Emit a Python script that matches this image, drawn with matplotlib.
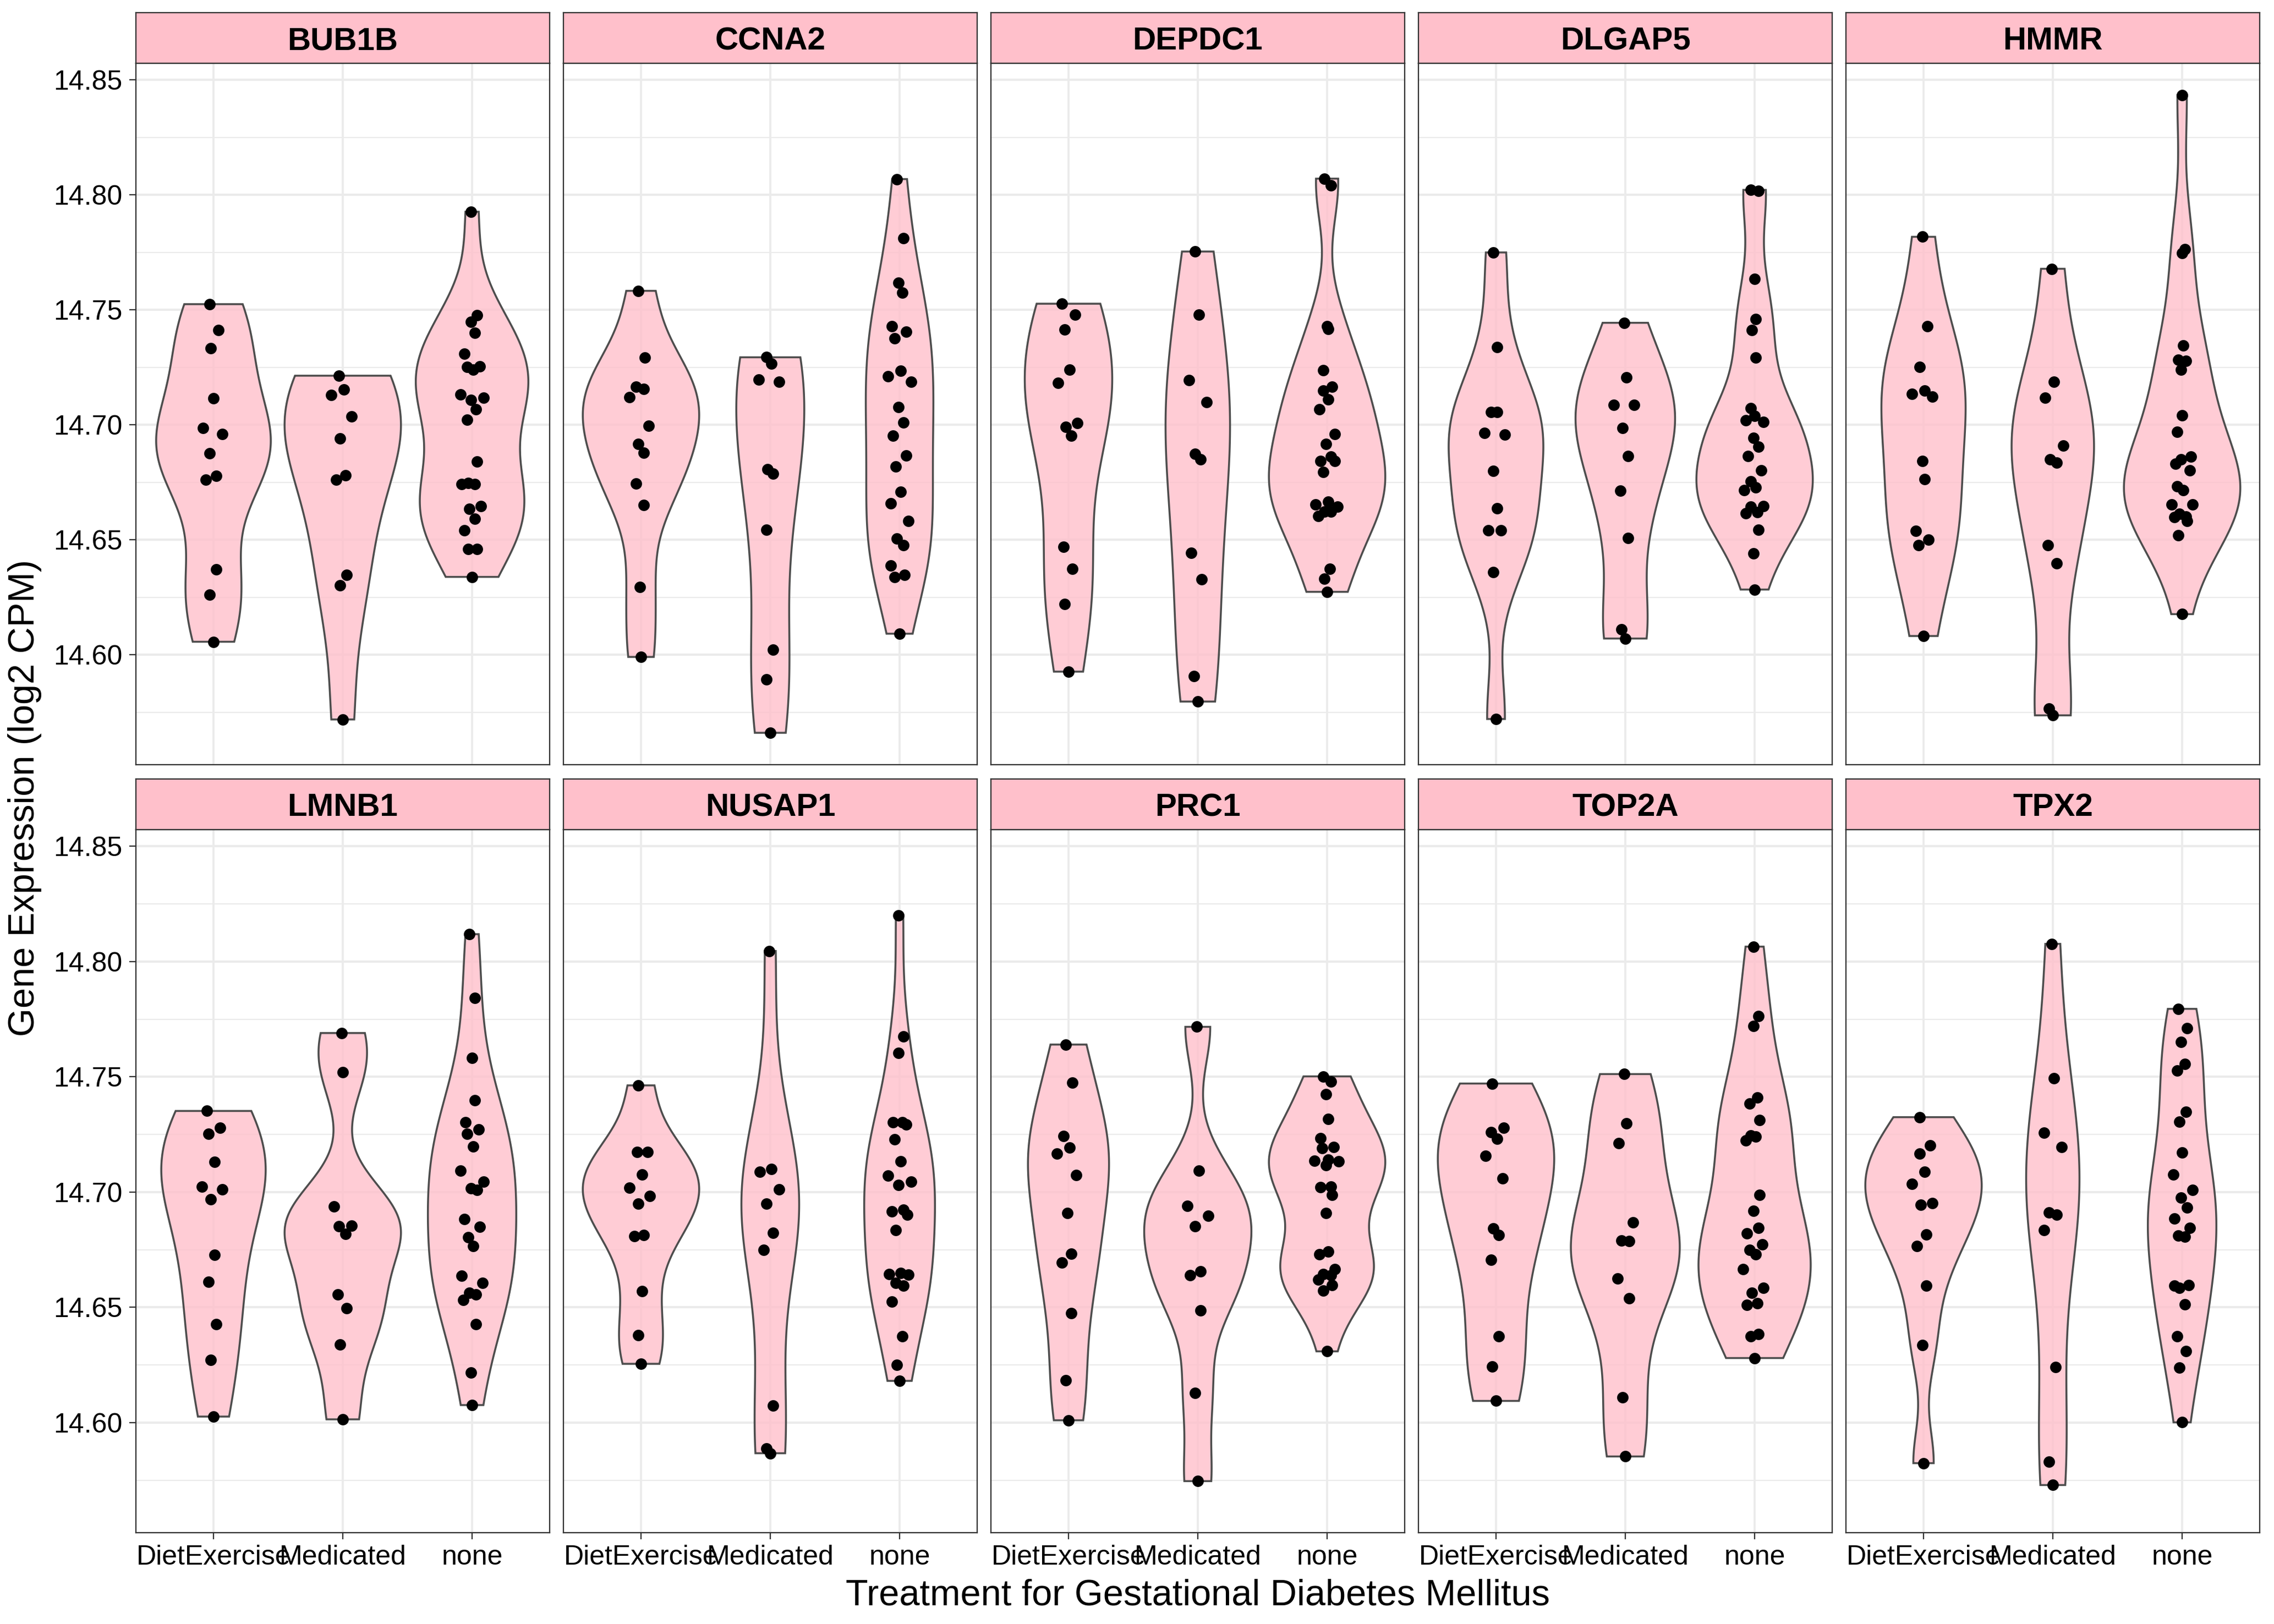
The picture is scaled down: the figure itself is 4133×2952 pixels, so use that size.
import numpy as np
import matplotlib
matplotlib.use("Agg")
import matplotlib.pyplot as plt

plt.rcParams['font.family'] = ['Liberation Sans', 'DejaVu Sans']

# ---------------- data ----------------
GENES = ["BUB1B", "CCNA2", "DEPDC1", "DLGAP5", "HMMR",
         "LMNB1", "NUSAP1", "PRC1", "TOP2A", "TPX2"]
GROUPS = ["DietExercise", "Medicated", "none"]

BUB1B = {
    "DietExercise": [14.7525, 14.7413, 14.7333, 14.7115, 14.6987, 14.6960, 14.6877, 14.6779, 14.6762, 14.6372, 14.6261, 14.6057],
    "Medicated": [14.7214, 14.7154, 14.7129, 14.7036, 14.6941, 14.6781, 14.6762, 14.6348, 14.6302, 14.5719],
    "none": [14.7927, 14.7477, 14.7449, 14.7401, 14.7310, 14.7255, 14.7251, 14.7240, 14.7133, 14.7119, 14.7108, 14.7067,
             14.7022, 14.6840, 14.6748, 14.6743, 14.6743, 14.6647, 14.6636, 14.6591, 14.6541, 14.6461, 14.6459, 14.6339],
}
CCNA2 = {
    "DietExercise": [14.7583, 14.7292, 14.7166, 14.7156, 14.7121, 14.6995, 14.6917, 14.6880, 14.6744, 14.6651, 14.6294, 14.5991],
    "Medicated": [14.7294, 14.7267, 14.7197, 14.7187, 14.6807, 14.6789, 14.6544, 14.6022, 14.5892, 14.5661],
    "none": [14.8069, 14.7813, 14.7618, 14.7576, 14.7430, 14.7405, 14.7376, 14.7236, 14.7212, 14.7187, 14.7077, 14.7011,
             14.6952, 14.6867, 14.6820, 14.6710, 14.6659, 14.6581, 14.6506, 14.6476, 14.6389, 14.6348, 14.6337, 14.6092],
}
DEPDC1 = {
    "DietExercise": [14.7527, 14.7479, 14.7414, 14.7240, 14.7183, 14.7007, 14.6991, 14.6952, 14.6469, 14.6374, 14.6220, 14.5927],
    "Medicated": [14.7754, 14.7480, 14.7195, 14.7098, 14.6873, 14.6849, 14.6443, 14.6329, 14.5907, 14.5797],
    "none": [14.8071, 14.8042, 14.7428, 14.7418, 14.7238, 14.7166, 14.7150, 14.7110, 14.7067, 14.6960, 14.6917, 14.6861,
             14.6843, 14.6843, 14.6795, 14.6665, 14.6653, 14.6645, 14.6624, 14.6624, 14.6603, 14.6374, 14.6331, 14.6274],
}
DLGAP5 = {
    "DietExercise": [14.7750, 14.7339, 14.7057, 14.7057, 14.6966, 14.6958, 14.6799, 14.6638, 14.6541, 14.6541, 14.6360, 14.5721],
    "Medicated": [14.7444, 14.7207, 14.7088, 14.7086, 14.6987, 14.6865, 14.6713, 14.6509, 14.6111, 14.6071],
    "none": [14.8022, 14.8018, 14.7634, 14.7461, 14.7413, 14.7292, 14.7073, 14.7038, 14.7020, 14.7014, 14.6944, 14.6904,
             14.6865, 14.6803, 14.6754, 14.6727, 14.6717, 14.6647, 14.6645, 14.6620, 14.6616, 14.6544, 14.6442, 14.6284],
}
HMMR = {
    "DietExercise": [14.7818, 14.7428, 14.7253, 14.7150, 14.7135, 14.7123, 14.6842, 14.6764, 14.6539, 14.6500, 14.6476, 14.6082],
    "Medicated": [14.7679, 14.7187, 14.7119, 14.6910, 14.6849, 14.6836, 14.6476, 14.6397, 14.5766, 14.5737],
    "none": [14.8434, 14.7764, 14.7747, 14.7345, 14.7284, 14.7279, 14.7240, 14.7042, 14.6970, 14.6863, 14.6849, 14.6830,
             14.6803, 14.6733, 14.6717, 14.6653, 14.6653, 14.6614, 14.6601, 14.6599, 14.6581, 14.6521, 14.6177],
}
LMNB1 = {
    "DietExercise": [14.7352, 14.7280, 14.7253, 14.7131, 14.7024, 14.7012, 14.6968, 14.6727, 14.6610, 14.6426, 14.6271, 14.6026],
    "Medicated": [14.7690, 14.7521, 14.6937, 14.6853, 14.6851, 14.6818, 14.6556, 14.6496, 14.6339, 14.6014],
    "none": [14.8119, 14.7842, 14.7583, 14.7399, 14.7304, 14.7271, 14.7253, 14.7197, 14.7092, 14.7044, 14.7016, 14.7009,
             14.6882, 14.6849, 14.6805, 14.6766, 14.6636, 14.6605, 14.6562, 14.6556, 14.6531, 14.6426, 14.6216, 14.6076],
}
NUSAP1 = {
    "DietExercise": [14.7463, 14.7174, 14.7174, 14.7077, 14.7020, 14.6983, 14.6950, 14.6814, 14.6810, 14.6570, 14.6379, 14.6255],
    "Medicated": [14.8046, 14.7100, 14.7088, 14.7012, 14.6950, 14.6822, 14.6750, 14.6073, 14.5888, 14.5867],
    "none": [14.8201, 14.7675, 14.7603, 14.7304, 14.7302, 14.7294, 14.7228, 14.7133, 14.7071, 14.7045, 14.7030, 14.6923,
             14.6917, 14.6902, 14.6834, 14.6649, 14.6643, 14.6641, 14.6607, 14.6595, 14.6525, 14.6374, 14.6251, 14.6181],
}
PRC1 = {
    "DietExercise": [14.7640, 14.7475, 14.7244, 14.7193, 14.7168, 14.7073, 14.6908, 14.6733, 14.6694, 14.6475, 14.6183, 14.6010],
    "Medicated": [14.7717, 14.7094, 14.6941, 14.6896, 14.6851, 14.6655, 14.6640, 14.6486, 14.6129, 14.5746],
    "none": [14.7502, 14.7480, 14.7424, 14.7317, 14.7234, 14.7195, 14.7191, 14.7141, 14.7135, 14.7133, 14.7117, 14.7024,
             14.7022, 14.6989, 14.6910, 14.6743, 14.6731, 14.6665, 14.6645, 14.6640, 14.6620, 14.6597, 14.6572, 14.6309],
}
TOP2A = {
    "DietExercise": [14.7471, 14.7280, 14.7259, 14.7232, 14.7158, 14.7059, 14.6843, 14.6814, 14.6707, 14.6375, 14.6243, 14.6094],
    "Medicated": [14.7512, 14.7298, 14.7212, 14.6869, 14.6789, 14.6787, 14.6624, 14.6539, 14.6109, 14.5853],
    "none": [14.8065, 14.7764, 14.7721, 14.7411, 14.7383, 14.7313, 14.7245, 14.7240, 14.7224, 14.6989, 14.6919, 14.6845,
             14.6820, 14.6772, 14.6748, 14.6731, 14.6665, 14.6585, 14.6564, 14.6517, 14.6511, 14.6385, 14.6374, 14.6280],
}
TPX2 = {
    "DietExercise": [14.7325, 14.7203, 14.7168, 14.7088, 14.7036, 14.6952, 14.6944, 14.6816, 14.6766, 14.6593, 14.6337, 14.5824],
    "Medicated": [14.8077, 14.7494, 14.7257, 14.7195, 14.6911, 14.6902, 14.6836, 14.6240, 14.5830, 14.5729],
    "none": [14.7795, 14.7710, 14.7651, 14.7556, 14.7527, 14.7348, 14.7306, 14.7172, 14.7077, 14.7009, 14.6976, 14.6933,
             14.6886, 14.6845, 14.6811, 14.6807, 14.6597, 14.6595, 14.6585, 14.6513, 14.6374, 14.6311, 14.6238, 14.6001],
}

# horizontal jitter of each point (category units)
BUB1B_JITTER = {
    "DietExercise": [-0.03, 0.04, -0.02, 0.0, -0.08, 0.07, -0.03, 0.02, -0.06, 0.02, -0.03, 0.0],
    "Medicated": [-0.03, 0.01, -0.09, 0.07, -0.02, 0.02, -0.05, 0.03, -0.02, 0.0],
    "none": [-0.01, 0.04, -0.01, 0.02, -0.06, 0.06, -0.04, 0.01, -0.09, 0.09, -0.01, 0.03,
             -0.04, 0.04, -0.03, -0.08, 0.02, 0.07, -0.02, 0.02, -0.06, 0.04, -0.03, 0.0],
}
CCNA2_JITTER = {
    "DietExercise": [-0.02, 0.03, -0.04, 0.02, -0.09, 0.06, -0.02, 0.02, -0.04, 0.02, -0.01, 0.0],
    "Medicated": [-0.03, 0.01, -0.09, 0.07, -0.02, 0.02, -0.03, 0.02, -0.03, 0.0],
    "none": [-0.02, 0.03, -0.01, 0.02, -0.06, 0.05, -0.04, 0.01, -0.09, 0.09, -0.01, 0.03,
             -0.05, 0.05, -0.03, 0.01, -0.07, 0.07, -0.02, 0.03, -0.07, 0.04, -0.04, 0.0],
}
DEPDC1_JITTER = {
    "DietExercise": [-0.05, 0.05, -0.03, 0.01, -0.08, 0.07, -0.02, 0.02, -0.04, 0.03, -0.03, 0.0],
    "Medicated": [-0.02, 0.01, -0.07, 0.07, -0.02, 0.02, -0.05, 0.03, -0.03, 0.0],
    "none": [-0.02, 0.03, 0.0, 0.01, -0.03, 0.04, -0.03, 0.01, -0.06, 0.06, -0.01, 0.03,
             -0.05, 0.06, -0.03, 0.01, -0.09, 0.08, -0.02, 0.03, -0.07, 0.02, -0.02, 0.0],
}
DLGAP5_JITTER = {
    "DietExercise": [-0.02, 0.01, -0.04, 0.01, -0.09, 0.07, -0.02, 0.01, -0.06, 0.04, -0.02, 0.0],
    "Medicated": [-0.01, 0.01, -0.09, 0.07, -0.02, 0.02, -0.04, 0.02, -0.03, 0.0],
    "none": [-0.03, 0.03, 0.0, 0.01, -0.02, 0.01, -0.03, 0.0, -0.07, 0.07, -0.01, 0.03,
             -0.05, 0.05, -0.03, 0.01, -0.08, 0.07, -0.03, 0.02, -0.07, 0.03, -0.01, 0.0],
}
HMMR_JITTER = {
    "DietExercise": [-0.01, 0.03, -0.03, 0.01, -0.09, 0.07, -0.01, 0.01, -0.06, 0.04, -0.04, 0.0],
    "Medicated": [-0.01, 0.01, -0.06, 0.08, -0.02, 0.03, -0.04, 0.03, -0.03, 0.0],
    "none": [0.0, 0.02, 0.0, 0.01, -0.03, 0.03, -0.01, 0.0, -0.04, 0.07, -0.01, -0.05,
             0.06, -0.04, 0.01, -0.08, 0.08, -0.02, 0.03, -0.06, 0.04, -0.03, 0.0],
}
LMNB1_JITTER = {
    "DietExercise": [-0.05, 0.05, -0.04, 0.01, -0.09, 0.07, -0.02, 0.01, -0.04, 0.02, -0.02, 0.0],
    "Medicated": [-0.01, 0.0, -0.07, 0.07, -0.03, 0.02, -0.04, 0.03, -0.02, 0.0],
    "none": [-0.02, 0.02, 0.0, 0.02, -0.05, 0.05, -0.04, 0.01, -0.09, 0.09, -0.01, 0.04,
             -0.06, 0.06, -0.03, 0.01, -0.08, 0.08, -0.02, 0.03, -0.07, 0.03, -0.01, 0.0],
}
NUSAP1_JITTER = {
    "DietExercise": [-0.02, -0.03, 0.05, 0.01, -0.09, 0.07, -0.02, 0.02, -0.05, 0.01, -0.02, 0.0],
    "Medicated": [-0.01, 0.01, -0.08, 0.07, -0.03, 0.02, -0.05, 0.02, -0.03, 0.0],
    "none": [-0.01, 0.03, -0.01, 0.02, -0.05, 0.05, -0.04, 0.01, -0.09, 0.09, -0.01, 0.03,
             -0.06, 0.06, -0.03, 0.01, -0.08, 0.07, -0.03, 0.03, -0.06, 0.02, -0.02, 0.0],
}
PRC1_JITTER = {
    "DietExercise": [-0.02, 0.03, -0.04, 0.01, -0.09, 0.06, -0.01, 0.02, -0.05, 0.02, -0.02, 0.0],
    "Medicated": [-0.01, 0.01, -0.08, 0.08, -0.02, 0.02, -0.06, 0.02, -0.02, 0.0],
    "none": [-0.03, 0.03, -0.01, 0.01, -0.05, 0.05, -0.04, 0.01, -0.10, 0.09, -0.01, 0.03,
             -0.05, 0.04, -0.01, 0.01, -0.06, 0.06, -0.03, 0.03, -0.07, 0.04, -0.03, 0.0],
}
TOP2A_JITTER = {
    "DietExercise": [-0.03, 0.06, -0.04, 0.01, -0.08, 0.05, -0.02, 0.02, -0.04, 0.02, -0.03, 0.0],
    "Medicated": [-0.01, 0.01, -0.05, 0.06, -0.03, 0.03, -0.06, 0.03, -0.02, 0.0],
    "none": [-0.01, 0.03, -0.01, 0.02, -0.04, 0.04, -0.03, 0.01, -0.07, 0.04, -0.01, 0.03,
             -0.06, 0.06, -0.04, 0.01, -0.09, 0.07, -0.02, 0.02, -0.06, 0.03, -0.03, 0.0],
}
TPX2_JITTER = {
    "DietExercise": [-0.03, 0.05, -0.03, 0.01, -0.09, 0.07, -0.02, 0.02, -0.05, 0.02, -0.01, 0.0],
    "Medicated": [-0.01, 0.01, -0.07, 0.07, -0.03, 0.03, -0.07, 0.02, -0.03, 0.0],
    "none": [-0.03, 0.04, -0.01, 0.02, -0.04, 0.03, -0.02, 0.0, -0.07, 0.08, -0.01, 0.04,
             -0.06, 0.06, -0.03, 0.02, 0.05, -0.06, -0.02, 0.02, -0.04, 0.03, -0.02, 0.0],
}

VALUES = {"BUB1B": BUB1B, "CCNA2": CCNA2, "DEPDC1": DEPDC1, "DLGAP5": DLGAP5, "HMMR": HMMR,
          "LMNB1": LMNB1, "NUSAP1": NUSAP1, "PRC1": PRC1, "TOP2A": TOP2A, "TPX2": TPX2}
JITTERS = {"BUB1B": BUB1B_JITTER, "CCNA2": CCNA2_JITTER, "DEPDC1": DEPDC1_JITTER,
           "DLGAP5": DLGAP5_JITTER, "HMMR": HMMR_JITTER, "LMNB1": LMNB1_JITTER,
           "NUSAP1": NUSAP1_JITTER, "PRC1": PRC1_JITTER, "TOP2A": TOP2A_JITTER, "TPX2": TPX2_JITTER}

Y_TICKS = [14.60, 14.65, 14.70, 14.75, 14.80, 14.85]
Y_TICK_LABELS = ["14.60", "14.65", "14.70", "14.75", "14.80", "14.85"]
X_TITLE = "Treatment for Gestational Diabetes Mellitus"
Y_TITLE = "Gene Expression (log2 CPM)"

# ---------------- styling ----------------
PINK = "#FFC0CB"
VIOLIN_FACE = (1.0, 192 / 255, 203 / 255, 0.8)
OUTLINE = "#4D4D4D"
FRAME = "#333333"
GRID = "#EBEBEB"


def bw_nrd0(x):
    x = np.asarray(x, float)
    sd = np.std(x, ddof=1)
    q75, q25 = np.percentile(x, [75, 25])
    lo = min(sd, (q75 - q25) / 1.34)
    if lo <= 0:
        lo = sd if sd > 0 else 1.0
    return 0.9 * lo * len(x) ** (-0.2)


def density(x, grid):
    x = np.asarray(x, float)
    bw = bw_nrd0(x)
    z = (grid[:, None] - x[None, :]) / bw
    return np.exp(-0.5 * z ** 2).sum(axis=1) / (len(x) * bw * np.sqrt(2 * np.pi))


W, H = 4133, 2952
fig = plt.figure(figsize=(W / 300, H / 300), dpi=300)

all_vals = np.concatenate([np.asarray(VALUES[g][k]) for g in GENES for k in GROUPS])
ymin, ymax = all_vals.min(), all_vals.max()
pad = 0.05 * (ymax - ymin)
YLIM = (ymin - pad, ymax + pad)

PANEL_W = 752
GAP = 25
LEFT0 = 247
ROWS = [  # (strip_top, panel_top, panel_bottom) in pixels
    (23, 115, 1390),
    (1416, 1508, 2786),
]

for idx, gene in enumerate(GENES):
    r, c = divmod(idx, 5)
    s_top, p_top, p_bot = ROWS[r]
    x0 = LEFT0 + c * (PANEL_W + GAP)
    ax = fig.add_axes([x0 / W, 1 - p_bot / H, PANEL_W / W, (p_bot - p_top) / H])
    sax = fig.add_axes([x0 / W, 1 - p_top / H, PANEL_W / W, (p_top - s_top) / H])

    # violins
    grids, dens = [], []
    for k in GROUPS:
        v = np.asarray(VALUES[gene][k], float)
        gr = np.linspace(v.min(), v.max(), 512)
        grids.append(gr)
        dens.append(density(v, gr))
    dmax = max(d.max() for d in dens)
    for i, k in enumerate(GROUPS):
        pos = i + 1
        hw = 0.45 * dens[i] / dmax
        xs = np.concatenate([pos - hw, (pos + hw)[::-1]])
        ys = np.concatenate([grids[i], grids[i][::-1]])
        ax.fill(xs, ys, facecolor=VIOLIN_FACE, edgecolor=OUTLINE, linewidth=0.85, zorder=2)
        v = np.asarray(VALUES[gene][k], float)
        j = np.asarray(JITTERS[gene][k], float)
        ax.scatter(pos + j, v, s=25, c="black", linewidths=0, zorder=3)

    ax.set_xlim(0.4, 3.6)
    ax.set_ylim(*YLIM)
    ax.set_xticks([1, 2, 3])
    ax.set_xticklabels(GROUPS)
    ax.set_yticks(Y_TICKS)
    ax.set_yticklabels(Y_TICK_LABELS)
    ax.set_yticks(np.arange(14.575, 14.86, 0.05), minor=True)
    ax.set_axisbelow(True)
    ax.grid(which="major", axis="y", color=GRID, linewidth=1.0)
    ax.grid(which="major", axis="x", color=GRID, linewidth=0.9)
    ax.grid(which="minor", axis="y", color=GRID, linewidth=0.55)
    ax.tick_params(which="minor", length=0)
    ax.tick_params(which="major", length=2.9, width=0.55, color=FRAME,
                   labelsize=12, labelcolor="black")
    ax.tick_params(axis="y", pad=3)
    ax.tick_params(axis="x", pad=2.4)
    for sp in ax.spines.values():
        sp.set_color(FRAME)
        sp.set_linewidth(0.55)
    if r == 0:
        ax.tick_params(axis="x", bottom=False, labelbottom=False)
    if c != 0:
        ax.tick_params(axis="y", left=False, labelleft=False)

    # strip
    sax.set_facecolor(PINK)
    sax.set_xticks([])
    sax.set_yticks([])
    for sp in sax.spines.values():
        sp.set_color(FRAME)
        sp.set_linewidth(0.55)
    sax.text(0.5, 0.27, gene, ha="center", va="baseline", fontsize=14,
             fontweight="bold", color="black", transform=sax.transAxes)

fig.text((LEFT0 + (5 * PANEL_W + 4 * GAP) / 2) / W, 1 - 2918 / H, X_TITLE,
         ha="center", va="baseline", fontsize=16)
fig.text(45 / W, 1 - 1450 / H, Y_TITLE, ha="center", va="center",
         rotation=90, fontsize=16)

fig.savefig("out.png", dpi=300)
